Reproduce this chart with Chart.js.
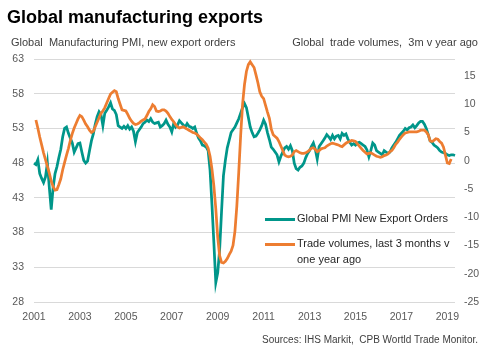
<!DOCTYPE html>
<html>
<head>
<meta charset="utf-8">
<script src="https://cdn.jsdelivr.net/npm/chart.js@4.4.1/dist/chart.umd.min.js"></script>
<style>
  html, body { margin: 0; padding: 0; background: #fff; }
  #wrap { position: relative; width: 494px; height: 356px; background: #fff; overflow: hidden;
          font-family: "Liberation Sans", Arial, sans-serif; }
  #c { position: absolute; left: 0; top: 0; }
  .txt { position: absolute; white-space: pre; }
  #title { left: 7px; top: 8px; font-size: 18px; line-height: 18px; font-weight: bold; color: #000; }
  #subL { left: 11px; top: 37px; font-size: 11px; line-height: 11px; color: #404040; }
  #subR { right: 16px; top: 37px; font-size: 11px; line-height: 11px; color: #404040; }
  #src { right: 16px; top: 335px; font-size: 10px; line-height: 10px; color: #404040; }
  .lg { position: absolute; left: 265px; display: flex; align-items: flex-start; }
  .lg .sw { width: 30px; height: 3px; margin-top: 6.5px; flex: none; }
  .lg .lt { margin-left: 2px; width: 165px; font-size: 11px; line-height: 16px; color: #262626; white-space: normal; margin-top: -1px; }
</style>
</head>
<body>
<div id="wrap">
  <canvas id="c" width="494" height="356"></canvas>
  <div class="txt" id="title">Global manufacturing exports</div>
  <div class="txt" id="subL">Global  Manufacturing PMI, new export orders</div>
  <div class="txt" id="subR">Global  trade volumes,  3m v year ago</div>
  <div class="txt" id="src">Sources: IHS Markit,  CPB Wortld Trade Monitor.</div>
</div>
<script>
// ---- Data (monthly, Jan 2001 onwards) ----
const startYear = 2001;
const monthCount = 221;
const months = Array.from({ length: monthCount }, (_, i) =>
  `${startYear + Math.floor(i / 12)}-${String((i % 12) + 1).padStart(2, '0')}`);

const xTickYears = ['2001', '2003', '2005', '2007', '2009', '2011', '2013', '2015', '2017', '2019'];
const leftTicks = [28, 33, 38, 43, 48, 53, 58, 63];
const rightTicks = [-25, -20, -15, -10, -5, 0, 5, 10, 15];

const seriesLabels = ['Global PMI New Export Orders', 'Trade volumes, last 3 months v one year ago'];

// Global Manufacturing PMI, new export orders (left axis)
const pmiExportOrders = [
  48.0, 47.8, 48.5, 46.5, 45.8, 45.2, 46.0, 48.0, 44.5, 41.3, 44.5, 46.5, // 2001
  47.5, 48.8, 50.0, 51.8, 53.0, 53.2, 52.3, 51.6, 50.9, 49.6, 50.2, 50.8, // 2002
  50.9, 49.6, 48.4, 48.0, 48.3, 49.8, 51.2, 52.2, 53.6, 54.7, 55.4, 55.0, // 2003
  53.4, 55.2, 55.6, 56.1, 56.7, 55.8, 55.6, 55.0, 53.4, 53.2, 53.0, 53.3, // 2004
  53.0, 53.4, 52.9, 53.2, 52.6, 51.1, 52.4, 52.8, 53.2, 53.7, 53.9, 54.2, // 2005
  54.0, 54.4, 53.9, 53.7, 53.8, 53.9, 53.2, 53.4, 53.7, 54.2, 53.6, 53.2, // 2006
  52.5, 53.7, 53.2, 53.5, 54.1, 53.8, 53.5, 53.2, 53.7, 53.3, 53.2, 53.0, // 2007
  53.2, 52.3, 51.6, 51.2, 50.6, 50.5, 50.3, 49.8, 47.0, 42.0, 36.5, 30.8, // 2008
  32.2, 35.5, 41.0, 46.2, 48.4, 50.2, 51.3, 52.4, 52.8, 53.2, 53.8, 54.4, // 2009
  55.2, 56.0, 56.6, 56.0, 54.6, 53.2, 52.4, 51.8, 51.9, 52.3, 52.8, 53.4, // 2010
  54.2, 53.6, 52.4, 51.4, 50.3, 50.0, 49.6, 49.2, 48.2, 49.0, 49.6, 50.2, // 2011
  50.4, 50.0, 50.5, 49.8, 48.0, 47.2, 47.0, 47.4, 47.6, 48.0, 48.8, 49.4, // 2012
  49.8, 50.4, 50.9, 50.0, 48.6, 50.4, 50.8, 51.2, 51.6, 52.1, 51.8, 51.4, // 2013
  52.0, 51.5, 51.9, 52.0, 51.5, 52.3, 52.0, 52.2, 51.5, 51.0, 50.6, 50.8, // 2014
  50.6, 50.9, 51.0, 50.8, 50.6, 50.4, 49.9, 48.9, 49.8, 50.9, 50.6, 49.8, // 2015
  49.6, 49.4, 49.2, 49.8, 49.6, 49.4, 49.6, 50.2, 50.6, 51.0, 51.5, 52.0, // 2016
  52.3, 52.6, 53.0, 52.8, 53.1, 53.2, 53.5, 53.1, 53.4, 53.8, 54.0, 54.0, // 2017
  53.6, 53.0, 52.1, 51.2, 51.0, 50.6, 50.4, 50.2, 49.8, 49.6, 49.5, 49.4, // 2018
  49.2, 49.1, 49.2, 49.2, 49.1                                            // 2019
];

// Global trade volumes, 3m v year ago, % (right axis)
const tradeVolumes3m = [
  null, 7.2, 5.8, 4.2, 2.8, 1.4, 0.2, -1.0, -2.2, -3.6, -4.6, -5.2,       // 2001
  -5.1, -4.2, -3.2, -1.6, -0.3, 1.0, 2.2, 3.6, 4.8, 5.8, 6.6, 7.4,        // 2002
  8.0, 7.8, 7.2, 6.5, 6.0, 5.4, 5.0, 5.2, 6.0, 6.8, 7.6, 8.4,             // 2003
  8.8, 9.4, 10.2, 11.0, 11.8, 12.1, 12.4, 12.2, 11.0, 10.0, 9.0, 8.9,     // 2004
  8.8, 8.2, 7.5, 7.0, 6.6, 6.4, 6.5, 6.7, 7.0, 7.2, 7.4, 8.0,             // 2005
  8.7, 9.2, 9.9, 9.6, 8.8, 8.7, 8.8, 9.0, 9.0, 8.8, 8.4, 7.8,             // 2006
  7.3, 6.9, 6.4, 6.0, 5.8, 5.9, 6.0, 5.8, 5.6, 5.4, 5.2, 5.0,             // 2007
  4.9, 4.7, 4.4, 4.0, 3.7, 3.3, 2.9, 2.2, 0.8, -1.5, -4.5, -8.5,          // 2008
  -13.5, -16.8, -18.0, -18.1, -17.8, -17.3, -16.6, -16.0, -15.0, -12.5, -8.0, -2.0, // 2009
  4.5, 10.0, 13.5, 15.8, 17.0, 17.5, 17.0, 16.5, 15.2, 13.8, 12.2, 11.4,  // 2010
  11.0, 9.8, 8.6, 7.5, 5.6, 4.6, 4.3, 4.0, 3.4, 2.6, 1.8, 1.0,            // 2011
  0.8, 0.7, 0.8, 1.0, 1.6, 1.8, 1.6, 1.4, 1.3, 1.3, 1.4, 1.6,             // 2012
  1.9, 2.2, 2.3, 2.0, 1.6, 1.8, 2.1, 2.2, 2.3, 2.6, 2.8, 3.0,             // 2013
  3.1, 3.0, 2.9, 2.8, 2.6, 2.5, 2.8, 3.1, 3.3, 3.4, 3.6, 3.5,             // 2014
  3.4, 3.0, 2.6, 2.2, 1.8, 1.5, 1.2, 1.3, 1.4, 1.2, 1.0, 0.8,             // 2015
  0.7, 0.6, 0.7, 0.9, 1.0, 1.2, 1.6, 1.8, 2.3, 2.9, 3.3, 3.8,             // 2016
  4.2, 4.6, 4.9, 5.0, 5.1, 5.1, 5.1, 5.1, 5.1, 5.2, 5.4, 5.4,             // 2017
  5.4, 5.1, 4.6, 3.5, 3.4, 3.6, 3.9, 3.8, 3.4, 3.1, 2.4, 1.0,             // 2018
  -0.4, -0.5, 0.3                                                          // 2019
];

const tealColor = '#00968A';
const orangeColor = '#ED7D31';
const gridColor = '#D9D9D9';
const tickColor = '#595959';
const tickFont = { family: '"Liberation Sans", Arial, sans-serif', size: 10.5 };

const chart = new Chart(document.getElementById('c'), {
  type: 'line',
  data: {
    labels: months,
    datasets: [
      {
        label: seriesLabels[0],
        data: pmiExportOrders,
        yAxisID: 'y',
        borderColor: tealColor,
        backgroundColor: tealColor,
        borderWidth: 2.75,
        pointRadius: 0,
        tension: 0,
        order: 2
      },
      {
        label: seriesLabels[1],
        data: tradeVolumes3m,
        yAxisID: 'y1',
        borderColor: orangeColor,
        backgroundColor: orangeColor,
        borderWidth: 2.75,
        pointRadius: 0,
        tension: 0,
        spanGaps: false,
        order: 1
      }
    ]
  },
  options: {
    responsive: false,
    animation: false,
    devicePixelRatio: 1,
    layout: { padding: { top: 59, left: 0, right: 0, bottom: 0 } },
    plugins: {
      legend: { display: false },
      tooltip: { enabled: false },
      title: { display: false }
    },
    scales: {
      x: {
        type: 'category',
        offset: false,
        grid: { display: false, drawTicks: false },
        border: { display: false },
        ticks: {
          autoSkip: false,
          maxRotation: 0,
          minRotation: 0,
          padding: 9,
          color: tickColor,
          font: tickFont,
          callback: function (value, index) {
            const lab = months[index];
            const yr = lab.slice(0, 4);
            return (lab.endsWith('-01') && xTickYears.includes(yr)) ? yr : null;
          }
        },
        afterFit: (s) => { s.height = 54; }
      },
      y: {
        position: 'left',
        min: 28,
        max: 63,
        grid: { color: gridColor, lineWidth: 1, drawTicks: false },
        border: { display: false },
        ticks: { padding: 10, color: tickColor, font: tickFont },
        afterBuildTicks: (s) => { s.ticks = leftTicks.map(v => ({ value: v })); },
        afterFit: (s) => { s.width = 34; }
      },
      y1: {
        position: 'right',
        min: -25,
        max: 18,
        grid: { display: false, drawTicks: false },
        border: { display: false },
        ticks: { padding: 9, color: tickColor, font: tickFont },
        afterBuildTicks: (s) => { s.ticks = rightTicks.map(v => ({ value: v })); },
        afterFit: (s) => { s.width = 39; }
      }
    }
  }
});

// HTML legend built from the chart's datasets
const wrap = document.getElementById('wrap');
chart.data.datasets.forEach((ds, i) => {
  const item = document.createElement('div');
  item.className = 'lg';
  item.style.top = (211 + i * 25) + 'px';
  const sw = document.createElement('div');
  sw.className = 'sw';
  sw.style.background = ds.borderColor;
  const lt = document.createElement('div');
  lt.className = 'lt';
  lt.textContent = ds.label;
  item.appendChild(sw);
  item.appendChild(lt);
  wrap.appendChild(item);
});
</script>
</body>
</html>
